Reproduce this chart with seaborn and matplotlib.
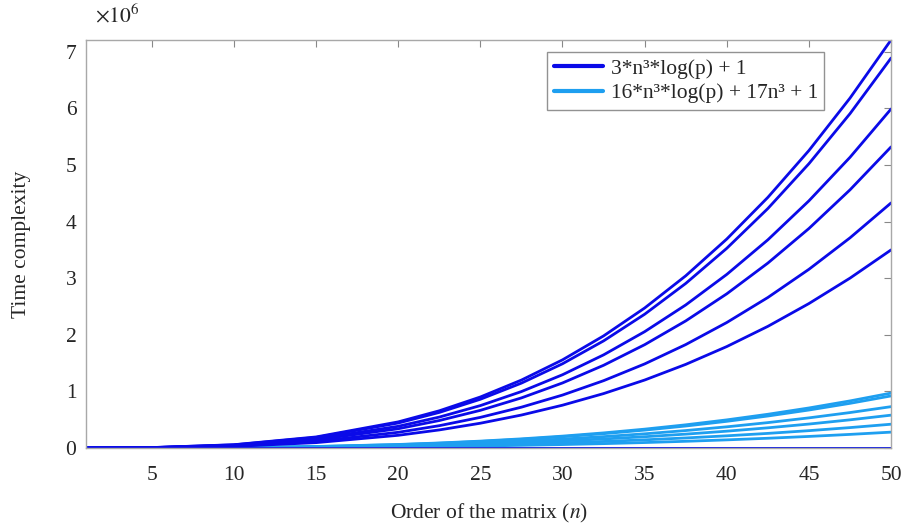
import numpy as np
import pandas as pd
import matplotlib
matplotlib.use("Agg")
import matplotlib.pyplot as plt
import seaborn as sns
from matplotlib.lines import Line2D

n_vals = [1, 5, 10, 15, 20, 22.5, 25, 27.5, 30, 32.5, 35, 37.5, 40, 42.5, 45, 47.5, 50]

# 3*n^3*log(p) + 1 curves, values in units of 10^6
dark_curves = [
    [0.0001, 0.0072, 0.0577, 0.195, 0.461, 0.657, 0.901, 1.200, 1.557, 1.980, 2.473, 3.042, 3.692, 4.428, 5.256, 6.182, 7.21],
    [0.0001, 0.0069, 0.0551, 0.186, 0.441, 0.628, 0.861, 1.146, 1.488, 1.892, 2.363, 2.907, 3.528, 4.231, 5.023, 5.907, 6.89],
    [0.0000, 0.0060, 0.0479, 0.162, 0.383, 0.546, 0.749, 0.997, 1.294, 1.645, 2.055, 2.527, 3.067, 3.678, 4.367, 5.136, 5.99],
    [0.0000, 0.0053, 0.0426, 0.144, 0.340, 0.485, 0.665, 0.885, 1.149, 1.461, 1.825, 2.245, 2.724, 3.267, 3.878, 4.561, 5.32],
    [0.0000, 0.0043, 0.0346, 0.117, 0.277, 0.394, 0.541, 0.721, 0.935, 1.189, 1.485, 1.827, 2.217, 2.659, 3.157, 3.713, 4.33],
    [0.0000, 0.0035, 0.0280, 0.0945, 0.224, 0.319, 0.4375, 0.582, 0.756, 0.961, 1.2005, 1.477, 1.792, 2.149, 2.552, 3.001, 3.50],
    [0.0] * 17,
]

# 16*n^3*log(p) + 17n^3 + 1 curves, values in units of 10^6
light_curves = [
    [0.0, 0.0010, 0.0078, 0.0262, 0.0621, 0.0884, 0.1213, 0.1614, 0.2095, 0.2664, 0.3327, 0.4092, 0.4966, 0.5957, 0.7071, 0.8317, 0.97],
    [0.0, 0.0009, 0.0074, 0.0248, 0.0589, 0.0838, 0.1150, 0.1531, 0.1987, 0.2526, 0.3156, 0.3881, 0.4710, 0.5650, 0.6707, 0.7888, 0.92],
    [0.0, 0.0007, 0.0058, 0.0197, 0.0467, 0.0665, 0.0913, 0.1215, 0.1577, 0.2005, 0.2504, 0.3080, 0.3738, 0.4483, 0.5322, 0.6259, 0.73],
    [0.0, 0.0006, 0.0046, 0.0157, 0.0371, 0.0528, 0.0725, 0.0965, 0.1253, 0.1593, 0.1989, 0.2447, 0.2970, 0.3562, 0.4228, 0.4973, 0.58],
    [0.0, 0.0004, 0.0034, 0.0113, 0.0269, 0.0383, 0.0525, 0.0699, 0.0907, 0.1153, 0.1441, 0.1772, 0.2150, 0.2579, 0.3062, 0.3601, 0.42],
    [0.0, 0.0003, 0.0022, 0.0076, 0.0179, 0.0255, 0.0350, 0.0466, 0.0605, 0.0769, 0.0960, 0.1181, 0.1434, 0.1719, 0.2041, 0.2401, 0.28],
    [0.0] * 17,
]

label_dark = "3*n³*log(p) + 1"
label_light = "16*n³*log(p) + 17n³ + 1"
x_ticks = [5, 10, 15, 20, 25, 30, 35, 40, 45, 50]
y_ticks = [0, 1, 2, 3, 4, 5, 6, 7]

rows = []
for i, c in enumerate(light_curves):
    for n, v in zip(n_vals, c):
        rows.append((n, v, label_light, "L%d" % i))
for i, c in enumerate(dark_curves):
    for n, v in zip(n_vals, c):
        rows.append((n, v, label_dark, "D%d" % i))
df = pd.DataFrame(rows, columns=["n", "value", "formula", "curve"])

sns.set_style("white")
plt.rcParams["font.family"] = ["Liberation Serif", "DejaVu Serif"]
plt.rcParams["mathtext.fontset"] = "stix"

dark_col = "#0a0ae8"
light_col = "#1e9ff0"
fs = 15.5

fig = plt.figure(figsize=(9.01, 5.25), dpi=100)
ax = fig.add_axes([0.0955, 0.1467, 0.8935, 0.7773])

sns.lineplot(data=df, x="n", y="value", hue="formula", units="curve", estimator=None,
             palette={label_dark: dark_col, label_light: light_col},
             hue_order=[label_light, label_dark], linewidth=2.0, legend=False, ax=ax)

ax.set_xlim(1, 50)
ax.set_ylim(0, 7.21)
ax.set_xticks(x_ticks)
ax.set_yticks(y_ticks)
ax.tick_params(direction="in", top=True, right=True, length=5, width=0.8,
               color="#888888", labelsize=fs)
ax.tick_params(axis="x", pad=13)
ax.tick_params(axis="y", pad=7)
for s in ax.spines.values():
    s.set_color("#a8a8a8")
    s.set_linewidth(1.0)

ax.set_xlabel("Order of the matrix ($n$)", fontsize=fs, labelpad=12)
ax.set_ylabel("Time complexity", fontsize=fs, labelpad=25)
ax.text(0.011, 1.03, r"$\times10^{6}$", transform=ax.transAxes, fontsize=fs,
        ha="left", va="bottom")

handles = [Line2D([0], [0], color=dark_col, lw=3),
           Line2D([0], [0], color=light_col, lw=3)]
leg = ax.legend(handles, [label_dark, label_light], loc="upper right",
                bbox_to_anchor=(0.917, 0.97), fontsize=fs, frameon=True,
                fancybox=False, handlelength=2.3, handletextpad=0.35,
                borderpad=0.3, labelspacing=0.2, borderaxespad=0)
leg.get_frame().set_edgecolor("#777777")
leg.get_frame().set_linewidth(1.0)

fig.savefig("out.png", dpi=100)
